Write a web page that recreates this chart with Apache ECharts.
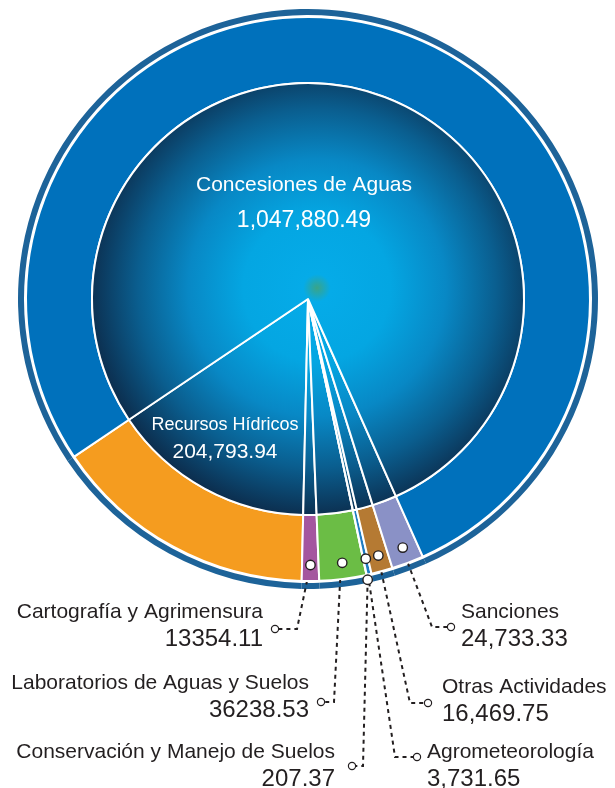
<!DOCTYPE html>
<html>
<head>
<meta charset="utf-8">
<title>Ingresos por servicio</title>
<script src="https://cdn.jsdelivr.net/npm/echarts@6/dist/echarts.min.js"></script>
<style>
  html, body { margin: 0; padding: 0; background: #fff; }
  #chart { width: 615px; height: 788px; }
</style>
</head>
<body>
<div id="chart"></div>
<script>
// sectores en orden antihorario, empezando por Recursos Hidricos
const categories = ['Recursos Hídricos', 'Cartografía y Agrimensura', 'Laboratorios de Aguas y Suelos',
  'Conservación y Manejo de Suelos', 'Agrometeorología', 'Otras Actividades', 'Sanciones', 'Concesiones de Aguas']
const values = [204793.94, 13354.11, 36238.53, 207.37, 3731.65, 16469.75, 24733.33, 1047880.49]
const colors = ['#f59c1f', '#a4569f', '#6bbd45', '#e9f1f8', '#1f7cc2', '#b57a33', '#8a91c6', '#0071bc']
// etiquetas que van dentro del circulo
const innerNames = ['Concesiones de Aguas', 'Recursos Hídricos']
// cifras que el original escribe sin separador de miles
const plainNames = ['Cartografía y Agrimensura', 'Laboratorios de Aguas y Suelos']

const CENTER = [308, 299]
const FONT = 'Liberation Sans'
const TXT = '#231f20'
const DOT_R = 266

// donde va cada texto de las llamadas, y el quiebre / final de su linea
const callouts = {
  'Cartografía y Agrimensura': { x: 263, y: 598, align: 'right', bend: [297, 629], end: [275, 629] },
  'Laboratorios de Aguas y Suelos': { x: 309, y: 669, align: 'right', bend: [334, 702], end: [321, 702] },
  'Conservación y Manejo de Suelos': { x: 335, y: 738, align: 'right', bend: [363, 766], end: [352, 766], dotR: 287 },
  'Agrometeorología': { x: 427, y: 738, align: 'left', bend: [395, 757], end: [417, 757] },
  'Otras Actividades': { x: 442, y: 673, align: 'left', bend: [410, 703], end: [428, 703] },
  'Sanciones': { x: 461, y: 598, align: 'left', bend: [432, 627], end: [451, 627] }
}
const innerPos = {
  'Concesiones de Aguas': [304, 203],
  'Recursos Hídricos': [225, 439]
}

function fmt(name, v) {
  if (plainNames.includes(name)) return v.toFixed(2)
  return v.toLocaleString('en-US', { minimumFractionDigits: 2, maximumFractionDigits: 2 })
}

// punto sobre el mismo radio que pt, a distancia r del centro
function alongRadius(pt, r) {
  const dx = pt[0] - CENTER[0], dy = pt[1] - CENTER[1]
  const d = Math.hypot(dx, dy) || 1
  return [CENTER[0] + dx / d * r, CENTER[1] + dy / d * r]
}

const dotStyle = (size, bw) => ({
  width: size, height: size, lineHeight: size, borderRadius: size / 2,
  backgroundColor: '#fff', borderColor: TXT, borderWidth: bw
})

const base = {
  type: 'pie',
  center: CENTER,
  startAngle: 214,
  clockwise: false,
  avoidLabelOverlap: false,
  animation: false,
  emphasis: { disabled: true }
}

const chart = echarts.init(document.getElementById('chart'))

const option = {
  series: [
    // aro exterior oscuro
    Object.assign({}, base, {
      radius: [284, 290],
      silent: true,
      z: 1,
      label: { show: false },
      labelLine: { show: false },
      data: values.map((v, i) => ({ name: categories[i], value: v, itemStyle: { color: '#1d6399' } }))
    }),
    // anillo de colores con las llamadas
    Object.assign({}, base, {
      radius: [216, 282],
      z: 2,
      itemStyle: { borderColor: '#fff', borderWidth: 2 },
      label: {
        position: 'outside',
        width: 360,
        fontFamily: FONT,
        formatter: (p) => `{n|${p.name}}\n{v|${fmt(p.name, p.value)}}`,
        rich: {
          n: { fontSize: 21, lineHeight: 28, color: TXT, fontFamily: FONT },
          v: { fontSize: 24, lineHeight: 27, color: TXT, fontFamily: FONT }
        }
      },
      labelLine: {
        lineStyle: { color: TXT, width: 2, type: [4, 4] }
      },
      labelLayout: function (p) {
        const name = categories[p.dataIndex]
        const c = callouts[name]
        if (!c || !p.labelLinePoints) return {}
        const start = alongRadius(p.labelLinePoints[0], c.dotR || DOT_R)
        return {
          x: c.x, y: c.y, align: c.align, verticalAlign: 'top',
          labelLinePoints: [start, c.bend, c.end]
        }
      },
      data: values.map((v, i) => {
        const has = !!callouts[categories[i]]
        return {
          name: categories[i], value: v,
          itemStyle: { color: colors[i] },
          label: { show: has },
          labelLine: { show: has }
        }
      })
    }),
    // circulo interior con degradado y rayos blancos
    Object.assign({}, base, {
      radius: [0, 216],
      z: 2,
      itemStyle: {
        color: new echarts.graphic.RadialGradient(317, 288, 230, [
          { offset: 0, color: '#3aa487' },
          { offset: 0.06, color: '#05abe8' },
          { offset: 0.32, color: '#04a6e2' },
          { offset: 0.56, color: '#0888c5' },
          { offset: 0.78, color: '#0a5e8f' },
          { offset: 1, color: '#0c2d4d' }
        ], true),
        borderColor: '#fff',
        borderWidth: 2,
        borderJoin: 'round'
      },
      label: {
        position: 'inside',
        color: '#fff',
        fontFamily: FONT,
        formatter: (p) => p.name === 'Concesiones de Aguas'
          ? `{n|${p.name}}\n{v|${fmt(p.name, p.value)}}`
          : `{m|${p.name}}\n{w|${fmt(p.name, p.value)}}`,
        rich: {
          n: { fontSize: 21, lineHeight: 36, color: '#fff', fontFamily: FONT },
          v: { fontSize: 23, lineHeight: 36, color: '#fff', fontFamily: FONT },
          m: { fontSize: 18, lineHeight: 27, color: '#fff', fontFamily: FONT },
          w: { fontSize: 21, lineHeight: 27, color: '#fff', fontFamily: FONT }
        }
      },
      labelLine: { show: false },
      labelLayout: function (p) {
        const pos = innerPos[categories[p.dataIndex]]
        if (!pos) return {}
        return { x: pos[0], y: pos[1], align: 'center', verticalAlign: 'middle' }
      },
      data: values.map((v, i) => ({
        name: categories[i], value: v,
        label: { show: innerNames.includes(categories[i]) }
      }))
    }),
    // circulitos sobre los sectores
    Object.assign({}, base, {
      radius: [250, 280],
      silent: true,
      z: 6,
      itemStyle: { color: 'transparent', borderWidth: 0 },
      label: { position: 'inside', formatter: '{d|}', rich: { d: dotStyle(8, 1.4) } },
      labelLine: { show: false },
      labelLayout: function (p) {
        const c = callouts[categories[p.dataIndex]]
        if (!c) return {}
        const mid = [p.rect.x + p.rect.width / 2, p.rect.y + p.rect.height / 2]
        const pt = alongRadius(mid, c.dotR || DOT_R)
        return { x: pt[0], y: pt[1], align: 'center', verticalAlign: 'middle' }
      },
      data: values.map((v, i) => ({
        name: categories[i], value: v,
        label: { show: !!callouts[categories[i]] }
      }))
    }),
    // circulitos al final de cada linea
    Object.assign({}, base, {
      radius: [250, 280],
      silent: true,
      z: 6,
      itemStyle: { color: 'transparent', borderWidth: 0 },
      label: { position: 'inside', formatter: '{d|}', rich: { d: dotStyle(6, 1.2) } },
      labelLine: { show: false },
      labelLayout: function (p) {
        const c = callouts[categories[p.dataIndex]]
        if (!c) return {}
        return { x: c.end[0], y: c.end[1], align: 'center', verticalAlign: 'middle' }
      },
      data: values.map((v, i) => ({
        name: categories[i], value: v,
        label: { show: !!callouts[categories[i]] }
      }))
    })
  ]
}

chart.setOption(option)
</script>
</body>
</html>
